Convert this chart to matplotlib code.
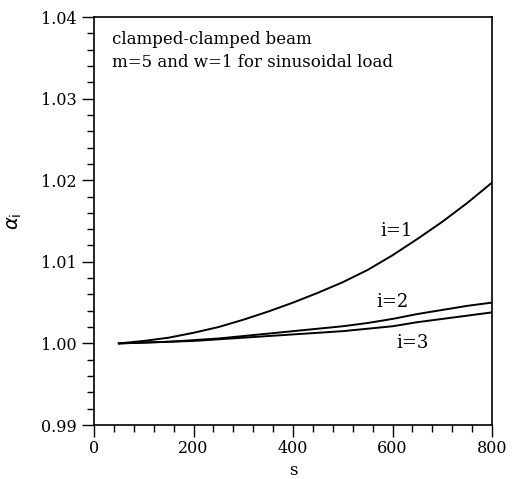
import matplotlib
matplotlib.use("Agg")
import matplotlib.pyplot as plt
from matplotlib.ticker import MultipleLocator

s = [50, 100, 150, 200, 250, 300, 350, 400, 450, 500, 550, 600, 650, 700, 750, 800]
alpha_i1 = [1.0000, 1.0003, 1.0007, 1.0013, 1.0020, 1.0029, 1.0039, 1.0050,
            1.0062, 1.0075, 1.0090, 1.0108, 1.0128, 1.0149, 1.0172, 1.0197]
alpha_i2 = [1.0000, 1.0001, 1.0002, 1.0004, 1.0006, 1.0009, 1.0012, 1.0015,
            1.0018, 1.0021, 1.0025, 1.0030, 1.0036, 1.0041, 1.0046, 1.0050]
alpha_i3 = [1.0000, 1.0001, 1.0002, 1.0003, 1.0005, 1.0007, 1.0009, 1.0011,
            1.0013, 1.0015, 1.0018, 1.0021, 1.0026, 1.0030, 1.0034, 1.0038]
curve_labels = ["i=1", "i=2", "i=3"]
xticks = [0, 200, 400, 600, 800]
yticks = [0.99, 1.00, 1.01, 1.02, 1.03, 1.04]
annotation = ["clamped-clamped beam", "m=5 and w=1 for sinusoidal load"]

plt.rcParams['font.family'] = ['DejaVu Serif']

fig = plt.figure(figsize=(5.13, 4.79), dpi=100)
ax = fig.add_axes([94/513, 54/479, 398/513, 408/479])

for ys in (alpha_i1, alpha_i2, alpha_i3):
    ax.plot(s, ys, color='black', lw=1.4)

ax.set_xlim(0, 800)
ax.set_ylim(0.99, 1.04)
ax.set_xticks(xticks)
ax.set_xticklabels([str(v) for v in xticks])
ax.set_yticks(yticks)
ax.set_yticklabels([f"{v:.2f}" for v in yticks])
ax.xaxis.set_minor_locator(MultipleLocator(40))
ax.yaxis.set_minor_locator(MultipleLocator(0.002))
ax.tick_params(which='major', direction='out', length=8.5, width=1.0, labelsize=11.5, pad=2,
               top=False, right=False)
ax.tick_params(axis='y', which='major', pad=4)
ax.tick_params(which='minor', direction='out', length=5, width=1.0, top=False, right=False)
for sp in ax.spines.values():
    sp.set_linewidth(1.2)

ax.text(36, 1.0372, annotation[0], fontsize=12, va='center', ha='left')
ax.text(36, 1.0344, annotation[1], fontsize=12, va='center', ha='left')

ax.text(608, 1.0138, curve_labels[0], fontsize=13, ha='center', va='center')
ax.text(600, 1.0051, curve_labels[1], fontsize=13, ha='center', va='center')
ax.text(640, 1.0001, curve_labels[2], fontsize=13, ha='center', va='center')

ax.set_xlabel("s", fontsize=12, labelpad=4)
ax.set_ylabel(r"$\alpha_{\mathrm{i}}$", fontsize=14, labelpad=12)

fig.savefig("out.png", dpi=100)
